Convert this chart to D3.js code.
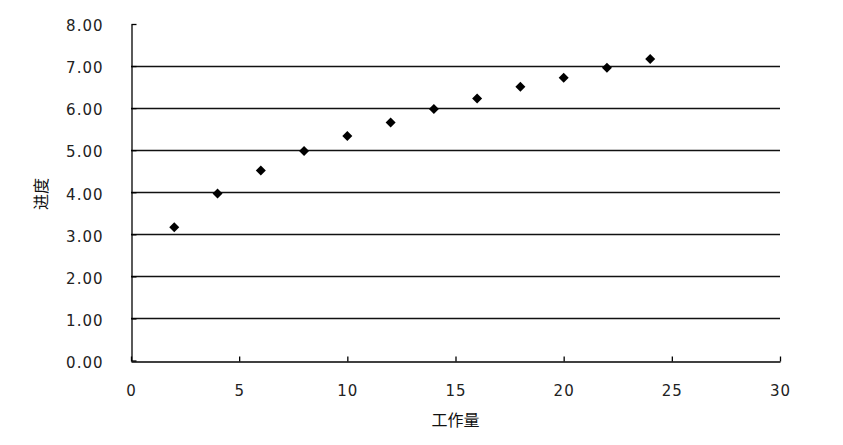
<!DOCTYPE html>
<html>
<head>
<meta charset="utf-8">
<script src="https://cdn.jsdelivr.net/npm/d3@7"></script>
<style>
  body { margin: 0; background: #fff; }
  .tick text { font-family: "DejaVu Sans", sans-serif; font-size: 15px; fill: #222; letter-spacing: 1px; }
  .title { font-family: "Noto Sans CJK SC", sans-serif; font-size: 16px; fill: #111; }
</style>
</head>
<body>
<svg id="chart" width="843" height="445"></svg>
<script>
// workload (x) vs progress (y)
let workload = [2, 4, 6, 8, 10, 12, 14, 16, 18, 20, 22, 24];
let progress = [3.17, 3.97, 4.52, 4.98, 5.34, 5.66, 5.98, 6.23, 6.51, 6.72, 6.96, 7.17];
let xTicks = [0, 5, 10, 15, 20, 25, 30];
let yTicks = [0, 1, 2, 3, 4, 5, 6, 7, 8];

let svg = d3.select("#chart");

let xScale = d3.scaleLinear().domain([0, 30]).range([131, 780]);
let yScale = d3.scaleLinear().domain([0, 8]).range([360.5, 24]);

// horizontal gridlines
svg.append("g")
   .selectAll("line")
   .data(yTicks.filter(d => d > 0 && d < 8))
   .join("line")
   .attr("x1", xScale(0))
   .attr("x2", xScale(30))
   .attr("y1", d => Math.round(yScale(d)) + 0.5)
   .attr("y2", d => Math.round(yScale(d)) + 0.5)
   .attr("stroke", "#111")
   .attr("stroke-width", 1.3);

let xAxis = svg.append("g")
   .attr("transform", `translate(0,${Math.round(yScale(0)) + 0.5})`)
   .call(d3.axisBottom(xScale)
           .tickValues(xTicks)
           .tickSizeInner(-5)
           .tickSizeOuter(0)
           .tickPadding(24));

let yAxis = svg.append("g")
   .attr("transform", `translate(${Math.round(xScale(0)) + 0.5},0)`)
   .call(d3.axisLeft(yScale)
           .tickValues(yTicks)
           .tickFormat(d3.format(".2f"))
           .tickSizeInner(-5)
           .tickSizeOuter(0)
           .tickPadding(28));

[xAxis, yAxis].forEach(ax => {
  ax.select(".domain").attr("stroke", "#000").attr("stroke-width", 1.3);
  ax.selectAll(".tick line").attr("stroke", "#000").attr("stroke-width", 1.3);
});
yAxis.selectAll(".tick text").attr("dy", "0.45em");

// diamond markers
let diamond = d3.symbol().type(d3.symbolSquare).size(50);
svg.append("g")
   .selectAll("path")
   .data(workload.map((w, i) => [w, progress[i]]))
   .join("path")
   .attr("d", diamond)
   .attr("transform", d => `translate(${xScale(d[0])},${yScale(d[1])}) rotate(45)`)
   .attr("fill", "#000");

// axis titles
svg.append("text")
   .attr("class", "title")
   .attr("x", xScale(15))
   .attr("y", 426)
   .attr("text-anchor", "middle")
   .text("工作量");

svg.append("text")
   .attr("class", "title")
   .attr("transform", "translate(47,194) rotate(-90)")
   .attr("text-anchor", "middle")
   .text("进度");
</script>
</body>
</html>
